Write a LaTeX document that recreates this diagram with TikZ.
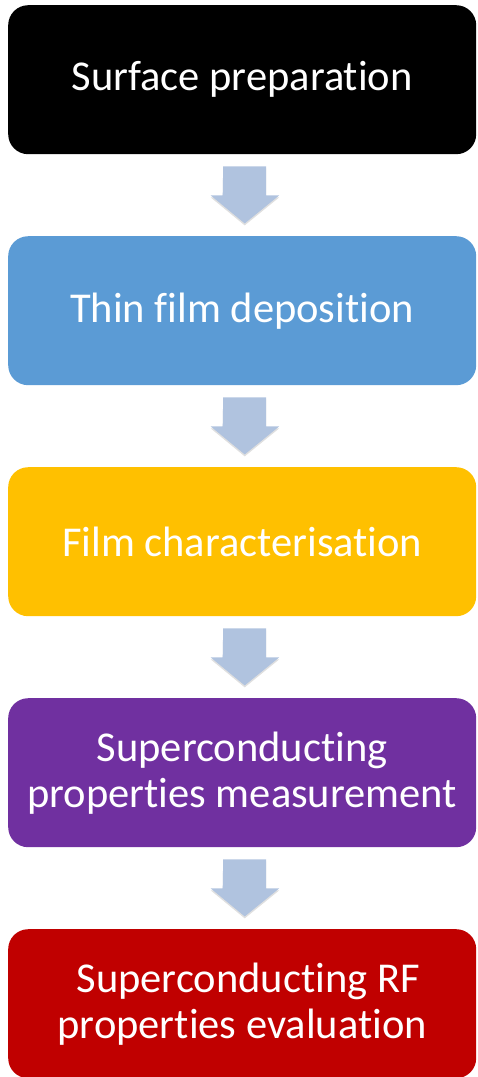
\documentclass[tikz,border=0pt]{standalone}
\usepackage{fontspec}
\setmainfont[Ligatures={NoCommon,NoRequired,NoContextual},RawFeature={-liga;-clig;-rlig;-dlig}]{Carlito}
\usetikzlibrary{calc,shadows}
\definecolor{boxblack}{HTML}{000000}
\definecolor{boxblue}{HTML}{5B9BD5}
\definecolor{boxgold}{HTML}{FFC000}
\definecolor{boxpurple}{HTML}{7030A0}
\definecolor{boxred}{HTML}{C00000}
\definecolor{arrowblue}{HTML}{B0C3DF}
\newcommand{\nolig}{\kern0pt{}}
\tikzset{
  stepbox/.style={rounded corners=20pt, minimum width=468pt, minimum height=149pt,
    inner sep=0pt, text=white, align=center,
    font=\fontsize{42.5}{46}\selectfont, anchor=north west},
  flowarrow/.style={fill=arrowblue, draw=none,
    drop shadow={opacity=0.25, shadow xshift=0pt, shadow yshift=-2pt}}
}
\newcommand{\flowarrowbetween}[1]{%
  \path[flowarrow] ($(#1.south)+(-19pt,-12pt)$) -- ++(43pt,0) -- ++(0,-29pt)
    -- ++(13pt,0) -- ($(#1.south)+(2.5pt,-69pt)$) -- ++(-34pt,28pt)
    -- ++(12pt,0) -- cycle;}
\begin{document}
\begin{tikzpicture}[x=1pt,y=1pt]
\useasboundingbox (0,0) rectangle (477,-1077);
\node[stepbox, fill=boxblack]  (b1) at (8,-5)   {Surface preparation};
\node[stepbox, fill=boxblue]   (b2) at (8,-236) {Thin f\nolig ilm deposition};
\node[stepbox, fill=boxgold]   (b3) at (8,-467) {Film characterisation};
\node[stepbox, fill=boxpurple] (b4) at (8,-698) {Superconducting\\properties measurement};
\node[stepbox, fill=boxred]    (b5) at (8,-929) {\hspace*{12pt}Superconducting RF\\properties evaluation};
\flowarrowbetween{b1}
\flowarrowbetween{b2}
\flowarrowbetween{b3}
\flowarrowbetween{b4}
\end{tikzpicture}
\end{document}
